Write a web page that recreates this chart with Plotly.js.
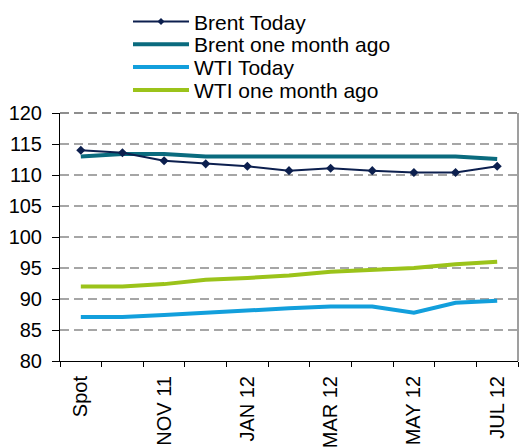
<!DOCTYPE html>
<html>
<head>
<meta charset="utf-8">
<script src="https://cdn.plot.ly/plotly-3.0.1.min.js"></script>
<style>
  html, body { margin: 0; padding: 0; background: #ffffff; }
  #chart { width: 523px; height: 448px; }
</style>
</head>
<body>
<div id="chart"></div>
<script>
// Forward curve months (Spot + contract months)
const categories = ['Spot', 'OCT 11', 'NOV 11', 'DEC 11', 'JAN 12', 'FEB 12',
                    'MAR 12', 'APR 12', 'MAY 12', 'JUN 12', 'JUL 12'];
// Only every other month is labelled on the axis
const tickLabels = ['Spot', '', 'NOV 11', '', 'JAN 12', '',
                    'MAR 12', '', 'MAY 12', '', 'JUL 12'];

// Prices, $/bbl
const brentToday    = [114.0, 113.6, 112.3, 111.8, 111.4, 110.7, 111.1, 110.7, 110.4, 110.4, 111.4];
const brentMonthAgo = [113.0, 113.4, 113.4, 113.0, 113.0, 113.0, 113.0, 113.0, 113.0, 113.0, 112.6];
const wtiToday      = [87.1, 87.1, 87.4, 87.8, 88.2, 88.5, 88.8, 88.8, 87.8, 89.4, 89.7];
const wtiMonthAgo   = [92.0, 92.0, 92.4, 93.1, 93.4, 93.8, 94.4, 94.7, 95.0, 95.6, 96.0];

const seriesNames = ['Brent Today', 'Brent one month ago', 'WTI Today', 'WTI one month ago'];

const COLORS = {
  brentToday: '#0c1f4e',
  brentMonthAgo: '#0a6b7e',
  wtiToday: '#129fdc',
  wtiMonthAgo: '#9bc31a'
};

const FONT = 'Liberation Sans, Arial, sans-serif';

const traces = [
  {
    x: categories, y: wtiMonthAgo, name: seriesNames[3], type: 'scatter', mode: 'lines',
    line: { color: COLORS.wtiMonthAgo, width: 4 }
  },
  {
    x: categories, y: wtiToday, name: seriesNames[2], type: 'scatter', mode: 'lines',
    line: { color: COLORS.wtiToday, width: 4 }
  },
  {
    x: categories, y: brentMonthAgo, name: seriesNames[1], type: 'scatter', mode: 'lines',
    line: { color: COLORS.brentMonthAgo, width: 4 }
  },
  {
    x: categories, y: brentToday, name: seriesNames[0], type: 'scatter', mode: 'lines+markers',
    line: { color: COLORS.brentToday, width: 2 },
    marker: { symbol: 'diamond', size: 7, color: COLORS.brentToday }
  }
];

// Plot area geometry in pixels, used to place the hand-drawn legend
const W = 523, H = 448;
const M = { l: 60, r: 5, t: 113, b: 87 };
const plotW = W - M.l - M.r, plotH = H - M.t - M.b;
const px = (x) => (x - M.l) / plotW;
const py = (y) => (H - M.b - y) / plotH;

const legendItems = [
  { name: seriesNames[0], color: COLORS.brentToday, width: 2, marker: true },
  { name: seriesNames[1], color: COLORS.brentMonthAgo, width: 4 },
  { name: seriesNames[2], color: COLORS.wtiToday, width: 4 },
  { name: seriesNames[3], color: COLORS.wtiMonthAgo, width: 4 }
];

const shapes = [];
const annotations = [];
legendItems.forEach((item, i) => {
  const rowY = 21.5 + i * 22.8;
  shapes.push({
    type: 'line', xref: 'paper', yref: 'paper',
    x0: px(133), x1: px(189), y0: py(rowY), y1: py(rowY),
    line: { color: item.color, width: item.width }
  });
  if (item.marker) {
    const cx = 161, r = 3.5;
    shapes.push({
      type: 'path', xref: 'paper', yref: 'paper',
      path: `M ${px(cx - r)} ${py(rowY)} L ${px(cx)} ${py(rowY - r)} L ${px(cx + r)} ${py(rowY)} L ${px(cx)} ${py(rowY + r)} Z`,
      fillcolor: item.color, line: { color: item.color, width: 0 }
    });
  }
  annotations.push({
    xref: 'paper', yref: 'paper', x: px(192), y: py(rowY + 0.5),
    xanchor: 'left', yanchor: 'middle', showarrow: false,
    text: item.name, font: { family: FONT, size: 21, color: '#000000' }
  });
});

// Frame of the plot area: dashed top edge, solid right edge
shapes.push({
  type: 'line', xref: 'paper', yref: 'paper', x0: 0, x1: 1, y0: 1, y1: 1,
  line: { color: '#6a6a6a', width: 1.5, dash: '9px,5px' }
});
shapes.push({
  type: 'line', xref: 'paper', yref: 'paper', x0: 1, x1: 1, y0: 0, y1: 1,
  line: { color: '#7f7f7f', width: 1.5 }
});

const layout = {
  width: W, height: H,
  margin: M,
  paper_bgcolor: '#ffffff', plot_bgcolor: '#ffffff',
  showlegend: false,
  font: { family: FONT, size: 20, color: '#000000' },
  xaxis: {
    type: 'category',
    range: [-0.5, categories.length - 0.5],
    tickmode: 'array', tickvals: categories, ticktext: tickLabels,
    tickson: 'boundaries',
    ticks: 'outside', ticklen: 5, tickcolor: '#000000', tickwidth: 1,
    tickangle: -90,
    ticklabelstandoff: 6,
    showline: true, linecolor: '#000000', linewidth: 1,
    showgrid: false, zeroline: false,
    tickfont: { family: FONT, size: 20, color: '#000000' }
  },
  yaxis: {
    range: [80, 120], dtick: 5, tick0: 80,
    ticks: 'outside', ticklen: 7, tickcolor: '#000000', tickwidth: 1,
    ticklabelstandoff: 6,
    showline: true, linecolor: '#000000', linewidth: 1,
    showgrid: true, gridcolor: '#a6a6a6', gridwidth: 1.5, griddash: '9px,5px',
    zeroline: false,
    tickfont: { family: FONT, size: 20, color: '#000000' }
  },
  shapes: shapes,
  annotations: annotations
};

Plotly.newPlot('chart', traces, layout, { displayModeBar: false, staticPlot: true });
</script>
</body>
</html>
